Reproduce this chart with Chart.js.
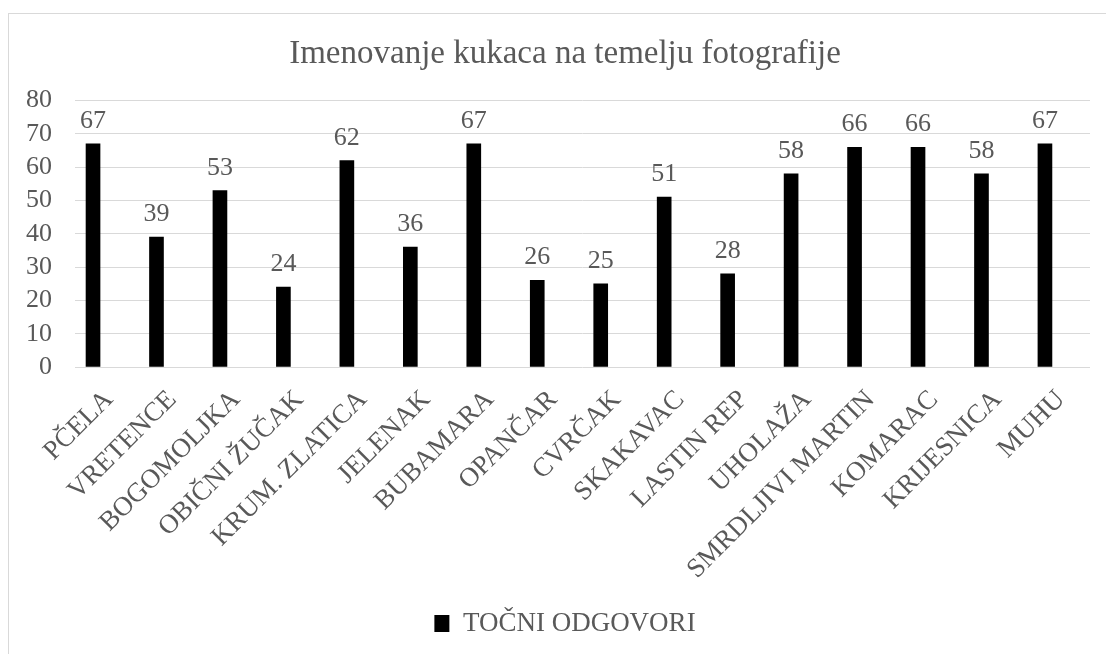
<!DOCTYPE html>
<html>
<head>
<meta charset="utf-8">
<script src="https://cdn.jsdelivr.net/npm/chart.js@4/dist/chart.umd.min.js"></script>
<style>
  html, body { margin: 0; padding: 0; background: #ffffff; overflow: hidden; }
  #wrap { position: relative; width: 1106px; height: 654px; overflow: hidden; }
  #frame { position: absolute; left: 8px; top: 13px; width: 1200px; height: 700px;
           border-left: 1px solid #d9d9d9; border-top: 1px solid #d9d9d9; }
  canvas { position: absolute; left: 0; top: 0; }
</style>
</head>
<body>
<div id="wrap">
  <div id="frame"></div>
  <canvas id="c" width="1122" height="654"></canvas>
</div>
<script>
const chartTitle = 'Imenovanje kukaca na temelju fotografije';
const seriesName = 'TOČNI ODGOVORI';
const categories = ['PČELA', 'VRETENCE', 'BOGOMOLJKA', 'OBIČNI ŽUČAK', 'KRUM. ZLATICA', 'JELENAK',
  'BUBAMARA', 'OPANČAR', 'CVRČAK', 'SKAKAVAC', 'LASTIN REP', 'UHOLAŽA', 'SMRDLJIVI MARTIN',
  'KOMARAC', 'KRIJESNICA', 'MUHU'];
const values = [67, 39, 53, 24, 62, 36, 67, 26, 25, 51, 28, 58, 66, 66, 58, 67];
const yTicks = [0, 10, 20, 30, 40, 50, 60, 70, 80];

const textColor = '#595959';
const serif = '"Liberation Serif", "Times New Roman", serif';

const valueLabels = {
  id: 'valueLabels',
  afterDatasetsDraw(chart) {
    const ctx = chart.ctx;
    const meta = chart.getDatasetMeta(0);
    ctx.save();
    ctx.font = '26px ' + serif;
    ctx.fillStyle = textColor;
    ctx.textAlign = 'center';
    ctx.textBaseline = 'alphabetic';
    meta.data.forEach((el, i) => {
      ctx.fillText(String(values[i]), el.x, el.y - 16);
    });
    ctx.restore();
  }
};

new Chart(document.getElementById('c'), {
  type: 'bar',
  data: {
    datasets: [{
      label: seriesName,
      data: values.map((v, i) => ({ x: i, y: v })),
      backgroundColor: '#000000',
      borderWidth: 0,
      barThickness: 14
    }]
  },
  options: {
    responsive: false,
    animation: false,
    devicePixelRatio: 1,
    layout: { padding: { left: 8, right: 0, top: 0, bottom: 7 } },
    plugins: {
      title: {
        display: true,
        text: chartTitle,
        color: textColor,
        font: { family: serif, size: 33, weight: 'normal' },
        padding: { top: 35, bottom: 26 }
      },
      legend: {
        display: true,
        position: 'bottom',
        labels: {
          color: textColor,
          font: { family: serif, size: 27 },
          boxWidth: 15,
          boxHeight: 17,
          padding: 10
        }
      },
      tooltip: { enabled: false }
    },
    scales: {
      x: {
        type: 'linear',
        offset: false,
        min: -0.284,
        max: 15.71,
        afterBuildTicks: (scale) => { scale.ticks = categories.map((_, i) => ({ value: i })); },
        afterFit: (scale) => { scale.height = 233; },
        grid: { display: false, drawTicks: false, offset: false },
        border: { display: false },
        ticks: {
          autoSkip: false,
          maxRotation: 45,
          minRotation: 45,
          padding: 17,
          labelOffset: 16,
          color: textColor,
          font: { family: serif, size: 27 },
          callback: (v) => categories[v]
        }
      },
      y: {
        min: 0,
        max: 80,
        afterBuildTicks: (scale) => { scale.ticks = yTicks.map(v => ({ value: v })); },
        afterFit: (scale) => { scale.width = 67; },
        grid: { color: '#d9d9d9', lineWidth: 1, drawTicks: false },
        border: { display: false },
        ticks: {
          autoSkip: false,
          padding: 23,
          color: textColor,
          font: { family: serif, size: 26 }
        }
      },
      yRight: {
        position: 'right',
        min: 0,
        max: 80,
        afterFit: (scale) => { scale.width = 32; },
        grid: { display: false, drawTicks: false },
        border: { display: false },
        ticks: { display: false }
      }
    }
  },
  plugins: [valueLabels]
});
</script>
</body>
</html>
